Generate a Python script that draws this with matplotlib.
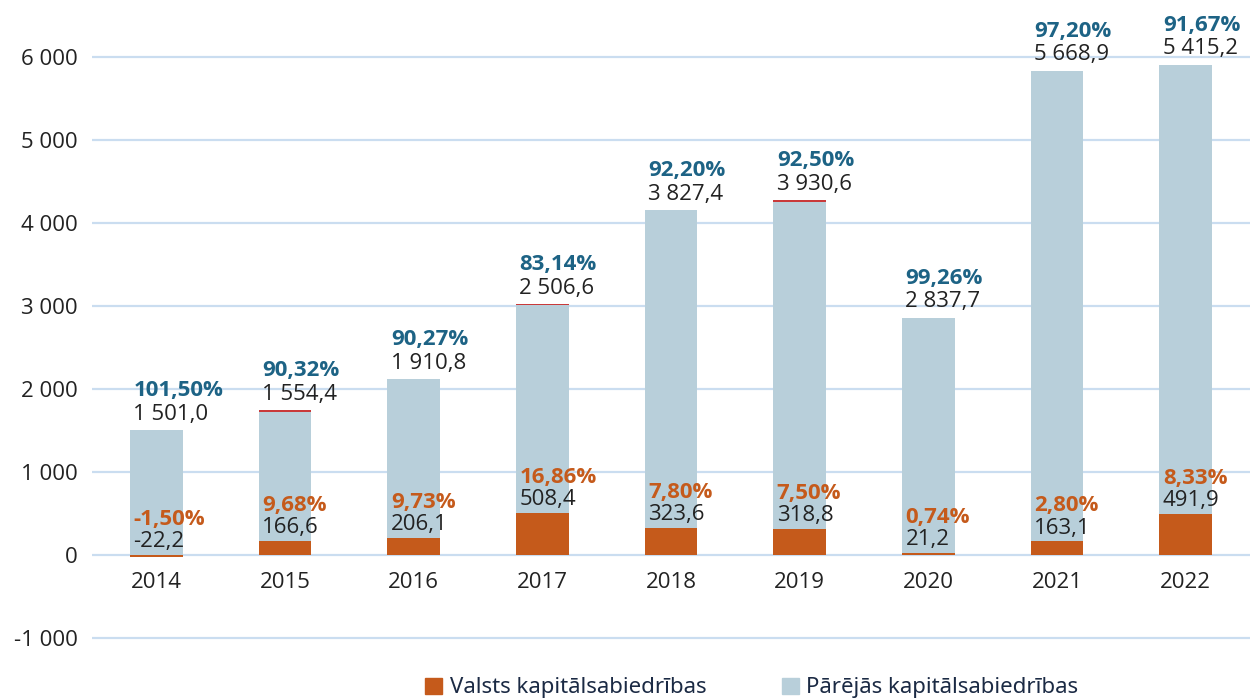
import matplotlib
matplotlib.use("Agg")
import matplotlib.pyplot as plt
from matplotlib.patches import Patch
import numpy as np

years = ["2014", "2015", "2016", "2017", "2018", "2019", "2020", "2021", "2022"]
valsts = [-22.2, 166.6, 206.1, 508.4, 323.6, 318.8, 21.2, 163.1, 491.9]
pareejas = [1501.0, 1554.4, 1910.8, 2506.6, 3827.4, 3930.6, 2837.7, 5668.9, 5415.2]
valsts_pct = [-1.50, 9.68, 9.73, 16.86, 7.80, 7.50, 0.74, 2.80, 8.33]
pareejas_pct = [101.50, 90.32, 90.27, 83.14, 92.20, 92.50, 99.26, 97.20, 91.67]
other = [0, 22, 0, 8, 0, 25, 0, 0, 0]
yticks = [-1000, 0, 1000, 2000, 3000, 4000, 5000, 6000]

C_ORANGE = "#C55A1B"
C_BLUE = "#B8CFDA"
C_TEAL = "#1D6385"
C_RED = "#C93A3A"
C_GRID = "#CADDF0"
C_TEXT = "#222222"

plt.rcParams["font.family"] = ["Open Sans", "DejaVu Sans"]
FS = 16

def fmt_num(v):
    s = f"{abs(v):,.1f}".replace(",", " ").replace(".", ",")
    return ("-" if v < 0 else "") + s

def fmt_pct(v):
    return f"{v:.2f}".replace(".", ",") + "%"

fig = plt.figure(figsize=(12.54, 7.0), dpi=100)
ax = fig.add_axes([92 / 1254, 1 - 654.6 / 700, (1250 - 92) / 1254, (654.6 - 7.2) / 700])
ax.set_xlim(-0.5, len(years) - 0.5)
ax.set_ylim(-1200, 6600)

x = np.arange(len(years))
w = 0.41
v = np.array(valsts)
p = np.array(pareejas)
o = np.array(other)
ax.bar(x, v, width=w, color=C_ORANGE, zorder=3)
base_p = np.where(v > 0, v, 0)
ax.bar(x, p, width=w, bottom=base_p, color=C_BLUE, zorder=3)
ax.bar(x, o, width=w, bottom=base_p + p, color=C_RED, zorder=3)

for yt in yticks:
    ax.axhline(yt, color=C_GRID, lw=1.6, zorder=1)
ax.set_yticks(yticks)
ax.set_yticklabels([fmt_num(t).replace(",0", "") if t != 0 else "0" for t in yticks],
                   fontsize=FS, color=C_TEXT)
ax.tick_params(axis="y", length=0, pad=10)
ax.set_xticks([])
for s in ax.spines.values():
    s.set_visible(False)

for i in range(len(years)):
    ax.annotate(years[i], (x[i], 0), xytext=(0, -12), textcoords="offset points",
                ha="center", va="top", fontsize=FS, color=C_TEXT)
    vb = max(v[i], 0)
    ax.annotate(fmt_num(v[i]), (x[i] - w / 2, vb), xytext=(2.5, 2), textcoords="offset points",
                ha="left", va="bottom", fontsize=FS, color=C_TEXT, zorder=5)
    ax.annotate(fmt_pct(valsts_pct[i]), (x[i] - w / 2, vb), xytext=(2.5, 18), textcoords="offset points",
                ha="left", va="bottom", fontsize=FS, fontweight="bold", color=C_ORANGE, zorder=5)
    top = base_p[i] + p[i] + o[i]
    ax.annotate(fmt_num(p[i]), (x[i] - w / 2, top), xytext=(2.5, 4), textcoords="offset points",
                ha="left", va="bottom", fontsize=FS, color=C_TEXT, zorder=5)
    ax.annotate(fmt_pct(pareejas_pct[i]), (x[i] - w / 2, top), xytext=(2.5, 21), textcoords="offset points",
                ha="left", va="bottom", fontsize=FS, fontweight="bold", color=C_TEAL, zorder=5)

handles = [Patch(color=C_ORANGE, label="Valsts kapitālsabiedrības"),
           Patch(color=C_BLUE, label="Pārējās kapitālsabiedrības")]
leg = fig.legend(handles=handles, loc="center", bbox_to_anchor=(752 / 1254, 1 - 688 / 700),
                 ncol=2, frameon=False, handlelength=0.75, handleheight=0.75,
                 handletextpad=0.35, columnspacing=3.4,
                 prop={"family": ["Liberation Sans Narrow", "Noto Sans", "DejaVu Sans"], "size": 16})
for t in leg.get_texts():
    t.set_color("#1B2A44")

fig.savefig("out.png", dpi=100)
